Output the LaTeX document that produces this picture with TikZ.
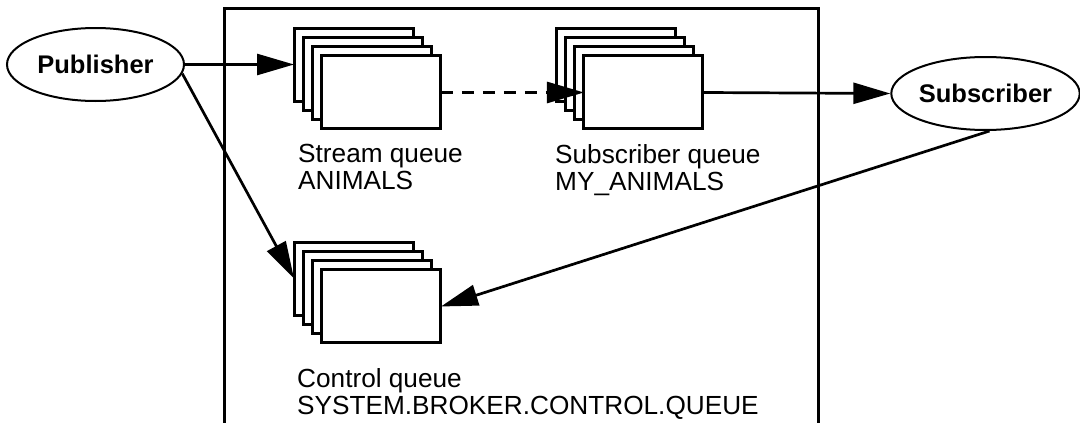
\documentclass[tikz,border=0pt]{standalone}
\usepackage{fontspec}
\setmainfont{Liberation Sans}
\usetikzlibrary{arrows.meta,shapes.geometric,calc}
\begin{document}
\begin{tikzpicture}[x=1pt,y=-1pt,
  qbox/.style={draw, line width=3pt, fill=white, minimum width=119pt, minimum height=73pt, anchor=north west, inner sep=0pt, outer sep=0pt},
  actor/.style={ellipse, draw, line width=2pt, inner sep=0pt, font=\fontsize{25.5}{30}\selectfont\bfseries},
  lbl/.style={anchor=north west, align=left, inner sep=0pt, font=\fontsize{26.2}{27.5}\selectfont},
  arr/.style={line width=2.7pt, -{Triangle[length=37pt,width=21pt]}},
  frame/.style={line width=3pt}]
\useasboundingbox (0,0) rectangle (1080,423);
\draw[frame] (224,430) -- (224,8) -- (818,8) -- (818,430);
\foreach \i in {0,1,2,3} {
  \node[qbox] (sq\i) at (294+9.33*\i, 28+9.33*\i) {};
  \node[qbox] (mq\i) at (556+9.33*\i, 28+9.33*\i) {};
  \node[qbox] (cq\i) at (294+9.33*\i, 242+9.33*\i) {};
}
\node[actor, minimum width=177pt, minimum height=73pt] (pub) at (95.5,64.5) {Publisher};
\node[actor, minimum width=173pt, minimum height=73pt] (sub) at (985.5,93.5) {Subscriber};
\draw[arr] (pub.east) -- (sq0.west);
\draw[arr] (pub.-6) -- (cq0.west);
\draw[arr, dash pattern=on 12pt off 9pt] (sq3.east) -- (mq3.west);
\draw[arr] (mq3.east) -- (sub.west);
\draw[arr] ($(sub.south)+(4,0)$) -- (cq3.east);
\node[lbl] (sql) at (298,144) {Stream queue\\ANIMALS};
\node[lbl] (mql) at (555,144) {Subscriber queue\\MY\_ANIMALS};
\node[lbl] (cql) at (297,368) {Control queue\\SYSTEM.BROKER.CONTROL.QUEUE};
\end{tikzpicture}
\end{document}
